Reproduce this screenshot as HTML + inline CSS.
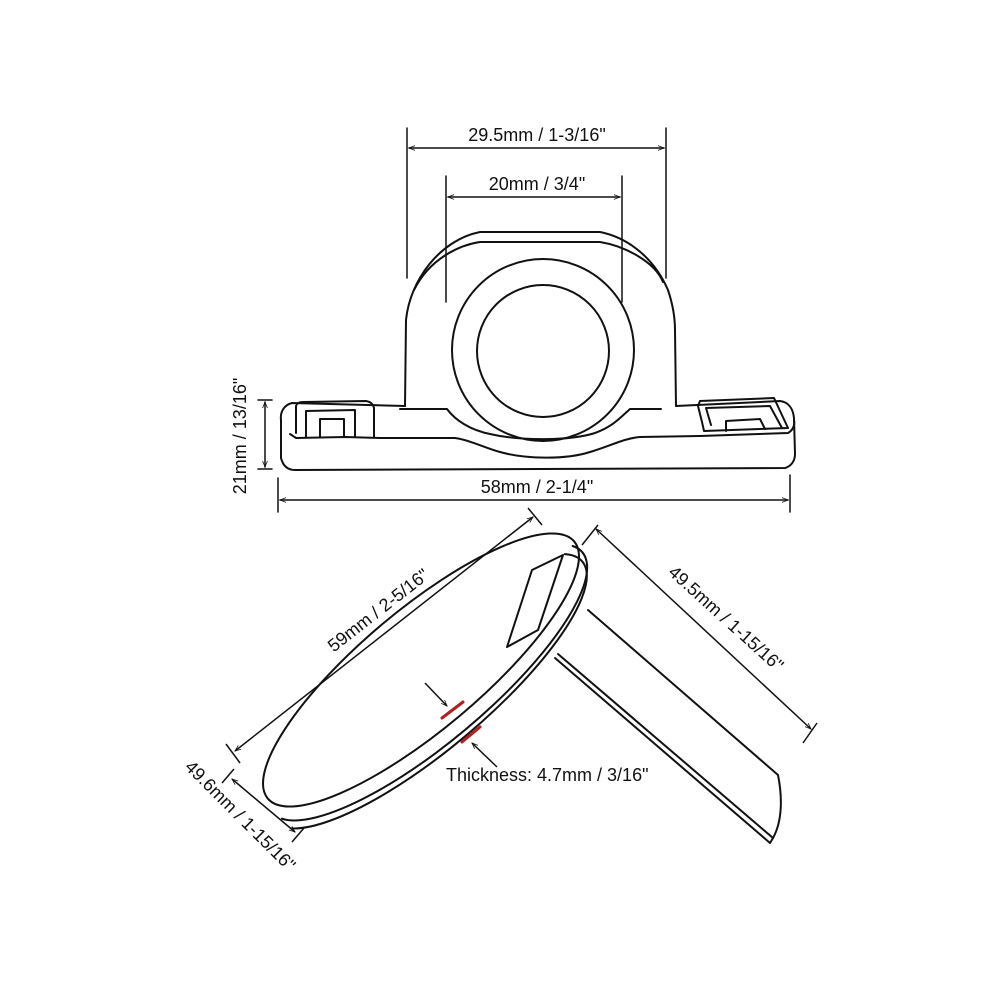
<!DOCTYPE html>
<html><head><meta charset="utf-8"><style>
html,body{margin:0;padding:0;background:#fff}
svg{display:block}
text{font-family:"Liberation Sans",Arial,sans-serif;font-size:18px;fill:#111}
</style></head><body>
<svg width="1000" height="1000" viewBox="0 0 1000 1000" xmlns="http://www.w3.org/2000/svg">
<defs>
<marker id="ar" viewBox="0 0 10 10" refX="10" refY="5" markerWidth="9" markerHeight="6" orient="auto-start-reverse" markerUnits="userSpaceOnUse"><path d="M0,1 L10,5 L0,9" fill="none" stroke="#111" stroke-width="1.3"/></marker>
</defs>
<g fill="none" stroke="#111" stroke-width="2" stroke-linejoin="round" stroke-linecap="round">
<g stroke-width="1.5">
<line x1="407" y1="128" x2="407" y2="278"/><line x1="666" y1="128" x2="666" y2="278"/>
<line x1="409" y1="148" x2="664" y2="148" marker-start="url(#ar)" marker-end="url(#ar)"/>
<line x1="446" y1="176" x2="446" y2="302"/><line x1="622" y1="176" x2="622" y2="302"/>
<line x1="448" y1="197" x2="620" y2="197" marker-start="url(#ar)" marker-end="url(#ar)"/>
<line x1="278" y1="478" x2="278" y2="512"/><line x1="790" y1="475" x2="790" y2="512"/>
<line x1="280" y1="500" x2="788" y2="500" marker-start="url(#ar)" marker-end="url(#ar)"/>
<line x1="258" y1="400" x2="272" y2="400"/><line x1="258" y1="469" x2="272" y2="469"/>
<line x1="265" y1="402" x2="265" y2="467" marker-start="url(#ar)" marker-end="url(#ar)"/>
</g>
<path d="M405,406 L406,320 C410,280 440,240 480,232 L600,232 C630,238 655,260 668,290 C673,305 675,320 675,330 L676,406"/>
<path d="M414,290 C430,258 460,245 480,242 L600,242 C625,246 655,262 663,282"/>
<circle cx="543" cy="350" r="91"/>
<circle cx="543" cy="351" r="66"/>
<path d="M405,406 L292,403 C284,405 280,412 281,420 L281,458 C283,466 288,470 295,470 L785,468 C792,466 795,460 795,454 L794,418 C793,408 788,402 780,401 L676,406"/>
<path d="M290,434 L296,438 L345,437 L380,438 L455,438 C470,440 485,448 500,452 C525,459 565,460 590,452 C610,446 625,438 640,437 L700,436 L788,433 C793,430 795,426 794,420"/>
<path d="M400,409 L447,409 C455,420 470,430 490,434 C520,441 570,441 595,433 C612,427 620,418 630,409 L661,409"/>
<path d="M296,433 L296,406 C297,403 299,402 303,402 L366,401 C371,402 373,404 374,408 L374,437"/>
<path d="M306,437 L306,411 L355,410 L355,437"/>
<path d="M320,437 L320,419 L344,419 L344,437"/>
<path d="M702,422 L698,406 L700,401 L774,398 L788,428 L704,431 Z"/>
<path d="M711,425 L706,408 L770,406 L782,428"/>
<path d="M726,431 L726,421 L760,419 L765,429"/>
</g>
<text x="537" y="141" text-anchor="middle">29.5mm / 1-3/16"</text>
<text x="537" y="190" text-anchor="middle">20mm / 3/4"</text>
<text x="537" y="493" text-anchor="middle">58mm / 2-1/4"</text>
<text transform="translate(246,436) rotate(-90)" text-anchor="middle">21mm / 13/16"</text>

<g fill="none" stroke="#111" stroke-width="2" stroke-linejoin="round" stroke-linecap="round">
<path d="M588,610 L778,775 C782,795 783,820 773,838"/>
<path d="M555,658 L770,843 L773,838"/>
<path d="M558,654 L773,838"/>
<g transform="translate(421,670) rotate(-40)"><ellipse cx="0" cy="0" rx="200" ry="60" fill="#fff"/></g>
<g transform="translate(430,684) rotate(-40)"><path d="M-200,8 A200,60 0 0 0 198,-14"/></g>
<g transform="translate(440,698) rotate(-40)"><path d="M-198,4 A200,58 0 0 0 188,-30"/></g>
<path d="M563,555 L532,570 L507,647 L538,630 Z"/>
</g>
<g stroke="#b02020" stroke-width="3" stroke-linecap="round">
<line x1="442" y1="718" x2="463" y2="702"/>
<line x1="462" y1="742" x2="480" y2="727"/>
</g>
<g fill="none" stroke="#111" stroke-width="1.5">
<line x1="425" y1="683" x2="447" y2="706" marker-end="url(#ar)"/>
<line x1="497" y1="767" x2="472" y2="743" marker-end="url(#ar)"/>
<line x1="235" y1="751" x2="533" y2="517" marker-start="url(#ar)" marker-end="url(#ar)"/>
<line x1="226" y1="744" x2="240" y2="763"/><line x1="528" y1="508" x2="542" y2="525"/>
<line x1="596" y1="529" x2="811" y2="729" marker-start="url(#ar)" marker-end="url(#ar)"/>
<line x1="582" y1="545" x2="598" y2="525"/><line x1="803" y1="743" x2="817" y2="723"/>
<line x1="232" y1="779" x2="295" y2="832" marker-start="url(#ar)" marker-end="url(#ar)"/>
<line x1="222" y1="783" x2="234" y2="769"/><line x1="292" y1="842" x2="304" y2="828"/>
</g>
<text x="446" y="781">Thickness: 4.7mm / 3/16"</text>
<text transform="translate(382,615) rotate(-38)" text-anchor="middle">59mm / 2-5/16"</text>
<text transform="translate(722,623) rotate(42)" text-anchor="middle">49.5mm / 1-15/16"</text>
<text transform="translate(236,820) rotate(45)" text-anchor="middle">49.6mm / 1-15/16"</text>
</svg>
</body></html>
